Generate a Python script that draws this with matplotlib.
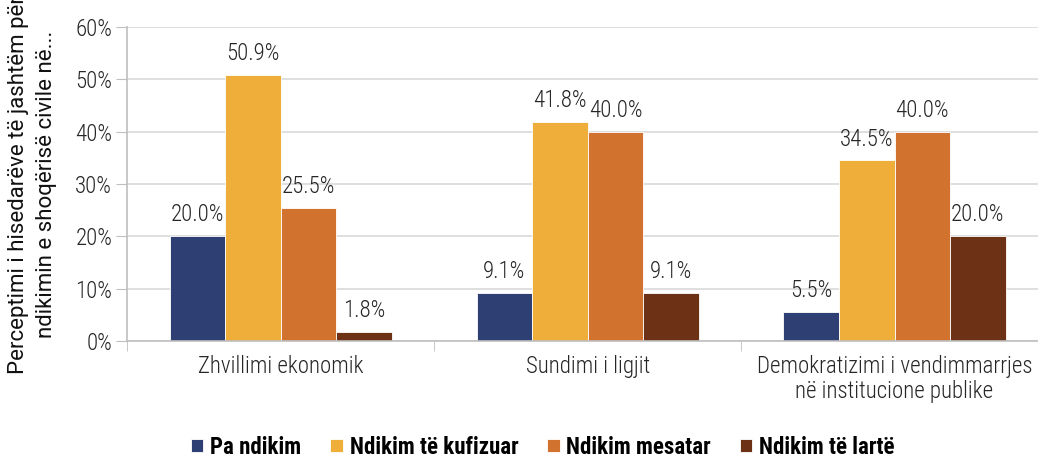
import matplotlib
matplotlib.use("Agg")
import matplotlib.pyplot as plt
import numpy as np

categories = ["Zhvillimi ekonomik", "Sundimi i ligjit",
              "Demokratizimi i vendimmarrjes\nnë institucione publike"]
series_names = ["Pa ndikim", "Ndikim të kufizuar", "Ndikim mesatar", "Ndikim të lartë"]
pa_ndikim = [20.0, 9.1, 5.5]
ndikim_kufizuar = [50.9, 41.8, 34.5]
ndikim_mesatar = [25.5, 40.0, 40.0]
ndikim_larte = [1.8, 9.1, 20.0]
yticks = [0, 10, 20, 30, 40, 50, 60]
ylabel = "Perceptimi i hisedarëve të jashtëm për\nndikimin e shoqërisë civile në..."

series = [pa_ndikim, ndikim_kufizuar, ndikim_mesatar, ndikim_larte]
colors = ["#2E3F74", "#EFAD3A", "#D1732F", "#6D3216"]

plt.rcParams["font.family"] = ["Roboto Condensed", "Roboto", "DejaVu Sans"]

fig = plt.figure(figsize=(10.38, 4.61), dpi=100)
# plot area runs slightly past the right edge of the canvas
ax = fig.add_axes([0.1228, 0.2603, 0.8868, 0.6811])

n = len(categories)
x = np.arange(n)
w = 0.181
for i, (vals, c, name) in enumerate(zip(series, colors, series_names)):
    pos = x + (i - 1.5) * w
    bars = ax.bar(pos, vals, width=w, color=c, label=name, zorder=2,
                  edgecolor="#FFFFFF", linewidth=0.6)
    for b, v in zip(bars, vals):
        ax.text(b.get_x() + b.get_width() / 2, v + 1.9, f"{v:.1f}%",
                ha="center", va="bottom", fontsize=16.5, weight="light", color="#262626")

ax.set_xlim(-0.5, n - 0.5)
ax.set_ylim(0, 60)
ax.set_yticks(yticks)
ax.set_yticklabels([f"{t}%" for t in yticks], fontsize=16.5, weight="light", color="#262626")
ax.yaxis.grid(True, color="#D9D9D9", linewidth=1.2, zorder=0)
ax.set_axisbelow(True)

ax.set_xticks(x)
ax.set_xticklabels(categories, fontsize=16.5, weight="light", color="#262626",
                   linespacing=1.1)
ax.tick_params(axis="x", length=0, pad=10)
ax.set_xticks(np.arange(n + 1) - 0.5, minor=True)
ax.tick_params(axis="x", which="minor", length=7, color="#BFBFBF")
ax.tick_params(axis="y", length=8, color="#BFBFBF", pad=3)

for s in ["top", "right"]:
    ax.spines[s].set_visible(False)
for s in ["left", "bottom"]:
    ax.spines[s].set_color("#BFBFBF")
    ax.spines[s].set_linewidth(1.2)

fig.text(0.031, 0.599, ylabel, rotation=90, ha="center", va="center",
         fontsize=16, family=["Roboto", "DejaVu Sans"], color="#111111",
         linespacing=1.45)

leg = fig.legend(loc="center", bbox_to_anchor=(0.523, 0.03), ncol=4, frameon=False,
                 handlelength=0.55, handleheight=0.55, handletextpad=0.3,
                 columnspacing=1.25, prop={"size": 16.5, "weight": "bold"})

fig.savefig("out.png", dpi=100)
